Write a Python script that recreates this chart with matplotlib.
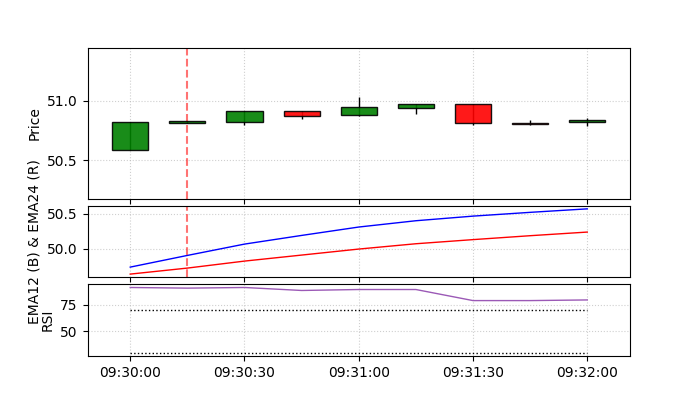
import pandas as pd
import matplotlib.pyplot as plt
import matplotlib.dates as mdates
from matplotlib.ticker import MultipleLocator

# candle data, 15 second bars
times = pd.date_range('2024-01-02 09:30:00', periods=9, freq='15s')
opens = [50.59, 50.816, 50.822, 50.917, 50.878, 50.936, 50.972, 50.813, 50.82]
closes = [50.825, 50.826, 50.917, 50.872, 50.947, 50.975, 50.811, 50.806, 50.842]
highs = [50.825, 50.828, 50.917, 50.917, 51.028, 50.975, 50.972, 50.84, 50.853]
lows = [50.59, 50.812, 50.80, 50.847, 50.87, 50.889, 50.80, 50.80, 50.79]

# indicators
ema12 = [49.737, 49.904, 50.066, 50.19, 50.31, 50.40, 50.466, 50.52, 50.57]
ema24 = [49.637, 49.723, 49.823, 49.909, 49.995, 50.071, 50.13, 50.186, 50.238]
rsi = [91.3, 90.7, 91.3, 88.5, 89.4, 89.4, 79.0, 79.0, 79.6]

signal_time = pd.Timestamp('2024-01-02 09:30:15')

fig, (ax1, ax2, ax3) = plt.subplots(3, 1, figsize=(7, 4), sharex=True,
                                    gridspec_kw={'height_ratios': [2.1, 1, 1], 'hspace': 0.07})

# Candles
width = 9.5 / 86400
for t, o, c, h, l in zip(times, opens, closes, highs, lows):
    color = 'green' if c >= o else 'red'
    ax1.vlines(t, l, h, color='black', linewidth=1)
    ax1.bar(t, c - o, bottom=o, width=width, color=color, alpha=0.9,
            edgecolor='black', linewidth=1, zorder=3)
ax1.axvline(signal_time, color='red', linestyle='--', alpha=0.55)
ax1.set_ylim(50.18, 51.44)
ax1.set_ylabel('Price')
ax1.grid(True, linestyle=':', alpha=0.6)

# EMAs
ax2.plot(times, ema12, color='blue', linewidth=1)
ax2.plot(times, ema24, color='red', linewidth=1)
ax2.axvline(signal_time, color='red', linestyle='--', alpha=0.55)
ax2.set_ylabel('EMA12 (B) & EMA24 (R)')
ax2.grid(True, linestyle=':', alpha=0.6)

# RSI
ax3.plot(times, rsi, color='#9b59b6', linewidth=1)
ax3.hlines([70, 30], times[0], times[-1], colors='black', linestyles=':', linewidth=1)
ax3.set_ylabel('RSI')
ax3.grid(True, linestyle=':', alpha=0.6)

ax1.yaxis.set_major_locator(MultipleLocator(0.5))
ax2.yaxis.set_major_locator(MultipleLocator(0.5))
ax3.yaxis.set_major_locator(MultipleLocator(25))

ax3.xaxis.set_major_locator(mdates.SecondLocator(bysecond=[0, 30]))
ax3.xaxis.set_major_formatter(mdates.DateFormatter('%H:%M:%S'))

plt.savefig('out.png', dpi=100)
